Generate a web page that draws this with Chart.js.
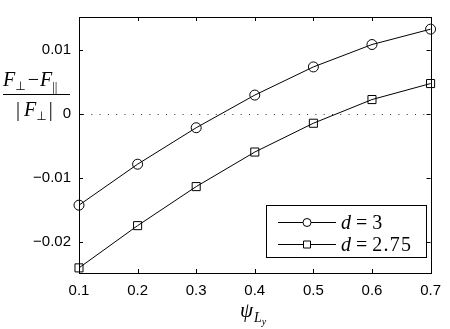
<!DOCTYPE html>
<html>
<head>
<meta charset="utf-8">
<script src="https://cdn.jsdelivr.net/npm/chart.js@4"></script>
<style>
  html, body { margin: 0; padding: 0; background: #fff; }
  #wrap { width: 450px; height: 329px; }
</style>
</head>
<body>
<div id="wrap"><canvas id="chart" width="450" height="329"></canvas></div>
<script>
// values
let psi = [0.1, 0.2, 0.3, 0.4, 0.5, 0.6, 0.7];
let d3 = [-0.0143, -0.0079, -0.0022, 0.0029, 0.0073, 0.0108, 0.0132];
let d275 = [-0.0241, -0.0175, -0.0114, -0.0060, -0.0015, 0.0022, 0.0047];
let xTicks = [0.1, 0.2, 0.3, 0.4, 0.5, 0.6, 0.7];
let yTicks = [-0.02, -0.01, 0, 0.01];
let legendNames = ['3', '2.75'];

const tickFont = { family: '"Liberation Sans", Arial, sans-serif', size: 15 };
const serif = '"Liberation Serif", "DejaVu Serif", serif';

function pts(ys) {
    return psi.map((x, i) => ({ x: x, y: ys[i] }));
}

function fmtY(v) {
    if (Math.abs(v) < 1e-9) return '0';
    return (v < 0 ? '\u2212' : '') + Math.abs(v).toFixed(2);
}

// draws pieces of math text one after another: [text, font, dy, gapAfter, letterSpacing]
function drawRun(ctx, x, y, parts) {
    for (let p of parts) {
        ctx.font = p[1];
        ctx.letterSpacing = (p[4] || 0) + 'px';
        ctx.fillText(p[0], x, y + (p[2] || 0));
        x += ctx.measureText(p[0]).width + (p[3] || 0);
    }
    ctx.letterSpacing = '0px';
    return x;
}
function runWidth(ctx, parts) {
    let w = 0;
    for (let p of parts) {
        ctx.font = p[1];
        w += ctx.measureText(p[0]).width + (p[3] || 0);
    }
    return w;
}

const decor = {
    id: 'decor',
    beforeDatasetsDraw(chart) {
        const { ctx, chartArea: a, scales } = chart;
        const y0 = scales.y.getPixelForValue(0);
        ctx.save();
        ctx.strokeStyle = '#333';
        ctx.lineWidth = 1;
        ctx.setLineDash([1, 7.3]);
        ctx.beginPath();
        ctx.moveTo(a.left + 4, Math.round(y0) + 0.5);
        ctx.lineTo(a.right, Math.round(y0) + 0.5);
        ctx.stroke();
        ctx.restore();
    },
    afterDraw(chart) {
        const { ctx, chartArea: a, scales } = chart;
        ctx.save();
        ctx.strokeStyle = '#000';
        ctx.fillStyle = '#000';
        ctx.lineWidth = 1;
        // frame
        ctx.strokeRect(Math.round(a.left) + 0.5, Math.round(a.top) + 0.5,
            Math.round(a.right - a.left), Math.round(a.bottom - a.top));
        // inward ticks on all four sides
        const tl = 4;
        ctx.beginPath();
        for (let v of xTicks) {
            const px = Math.round(scales.x.getPixelForValue(v)) + 0.5;
            ctx.moveTo(px, a.bottom); ctx.lineTo(px, a.bottom - tl);
            ctx.moveTo(px, a.top); ctx.lineTo(px, a.top + tl);
        }
        for (let v of yTicks) {
            const py = Math.round(scales.y.getPixelForValue(v)) + 0.5;
            ctx.moveTo(a.left, py); ctx.lineTo(a.left + tl, py);
            ctx.moveTo(a.right, py); ctx.lineTo(a.right - tl, py);
        }
        ctx.stroke();

        // y axis title: (F_perp - F_par) / |F_perp|
        const it = 'italic 20px ' + serif, up = '20px ' + serif, sub = '13px ' + serif;
        const subSym = '12px "DejaVu Sans", sans-serif';
        ctx.textBaseline = 'alphabetic';
        ctx.textAlign = 'left';
        const num = [['F', it, 0, 0], ['\u22A5', subSym, 4, 2], ['\u2212', up, 0, 1], ['F', it, 0, 0], ['||', sub, 5, 0]];
        drawRun(ctx, 3, 86, num);
        ctx.beginPath();
        ctx.moveTo(3, 94.5); ctx.lineTo(70, 94.5);
        ctx.stroke();
        const den = [['|', up, 0, 4], ['F', it, 0, 0], ['\u22A5', subSym, 4, 2], ['|', up, 0, 0]];
        drawRun(ctx, 16, 116, den);

        // x axis title: psi_{L_y}
        const xl = [['\u03C8', 'italic 21px ' + serif, 0, 1], ['L', 'italic 14px ' + serif, 5, 0], ['y', 'italic 10px ' + serif, 8, 0]];
        drawRun(ctx, 240, 317, xl);

        // legend box
        const lx = 266.5, ly = 205.5, lw = 160, lh = 52;
        ctx.fillStyle = '#fff';
        ctx.fillRect(lx, ly, lw, lh);
        ctx.strokeRect(lx, ly, lw, lh);
        ctx.fillStyle = '#000';
        const rows = [222.5, 244.5];
        chart.data.datasets.forEach((ds, i) => {
            const ry = rows[i];
            ctx.beginPath();
            ctx.moveTo(278, ry); ctx.lineTo(336, ry);
            ctx.stroke();
            ctx.beginPath();
            if (ds.pointStyle === 'circle') {
                ctx.arc(307, ry, 4, 0, Math.PI * 2);
            } else {
                ctx.rect(303.5, ry - 3.5, 7, 7);
            }
            ctx.fillStyle = '#fff';
            ctx.fill();
            ctx.stroke();
            ctx.fillStyle = '#000';
            drawRun(ctx, 341, ry + 6, [['d', 'italic 20px ' + serif, 0, 5], ['=', up, 0, 5], [legendNames[i], up, 0, 0, 1.2]]);
        });
        ctx.restore();
    }
};

const ctx = document.getElementById('chart').getContext('2d');
new Chart(ctx, {
    type: 'line',
    data: {
        datasets: [
            {
                label: 'd = 3', data: pts(d3), borderColor: '#000', borderWidth: 1,
                pointStyle: 'circle', pointRadius: 5, pointBorderColor: '#000',
                pointBackgroundColor: 'rgba(0,0,0,0)', pointBorderWidth: 1, tension: 0
            },
            {
                label: 'd = 2.75', data: pts(d275), borderColor: '#000', borderWidth: 1,
                pointStyle: 'rect', pointRadius: 5.7, pointBorderColor: '#000',
                pointBackgroundColor: 'rgba(0,0,0,0)', pointBorderWidth: 1, tension: 0
            }
        ]
    },
    options: {
        responsive: false,
        animation: false,
        events: [],
        clip: false,
        layout: { padding: { left: 0, right: 15, top: 15, bottom: 0 } },
        plugins: { legend: { display: false }, tooltip: { enabled: false } },
        scales: {
            x: {
                type: 'linear', min: 0.1, max: 0.7,
                afterBuildTicks: s => { s.ticks = xTicks.map(v => ({ value: v })); },
                afterFit: s => { s.height = 56; },
                grid: { display: false, drawTicks: false },
                border: { display: false },
                ticks: { color: '#000', font: tickFont, padding: 9, maxRotation: 0, callback: v => v.toFixed(1) }
            },
            y: {
                type: 'linear', min: -0.0249, max: 0.0151,
                afterBuildTicks: s => { s.ticks = yTicks.map(v => ({ value: v })); },
                afterFit: s => { s.width = 79; },
                grid: { display: false, drawTicks: false },
                border: { display: false },
                ticks: { color: '#000', font: tickFont, padding: 8, callback: v => fmtY(v) }
            }
        }
    },
    plugins: [decor]
});
</script>
</body>
</html>
